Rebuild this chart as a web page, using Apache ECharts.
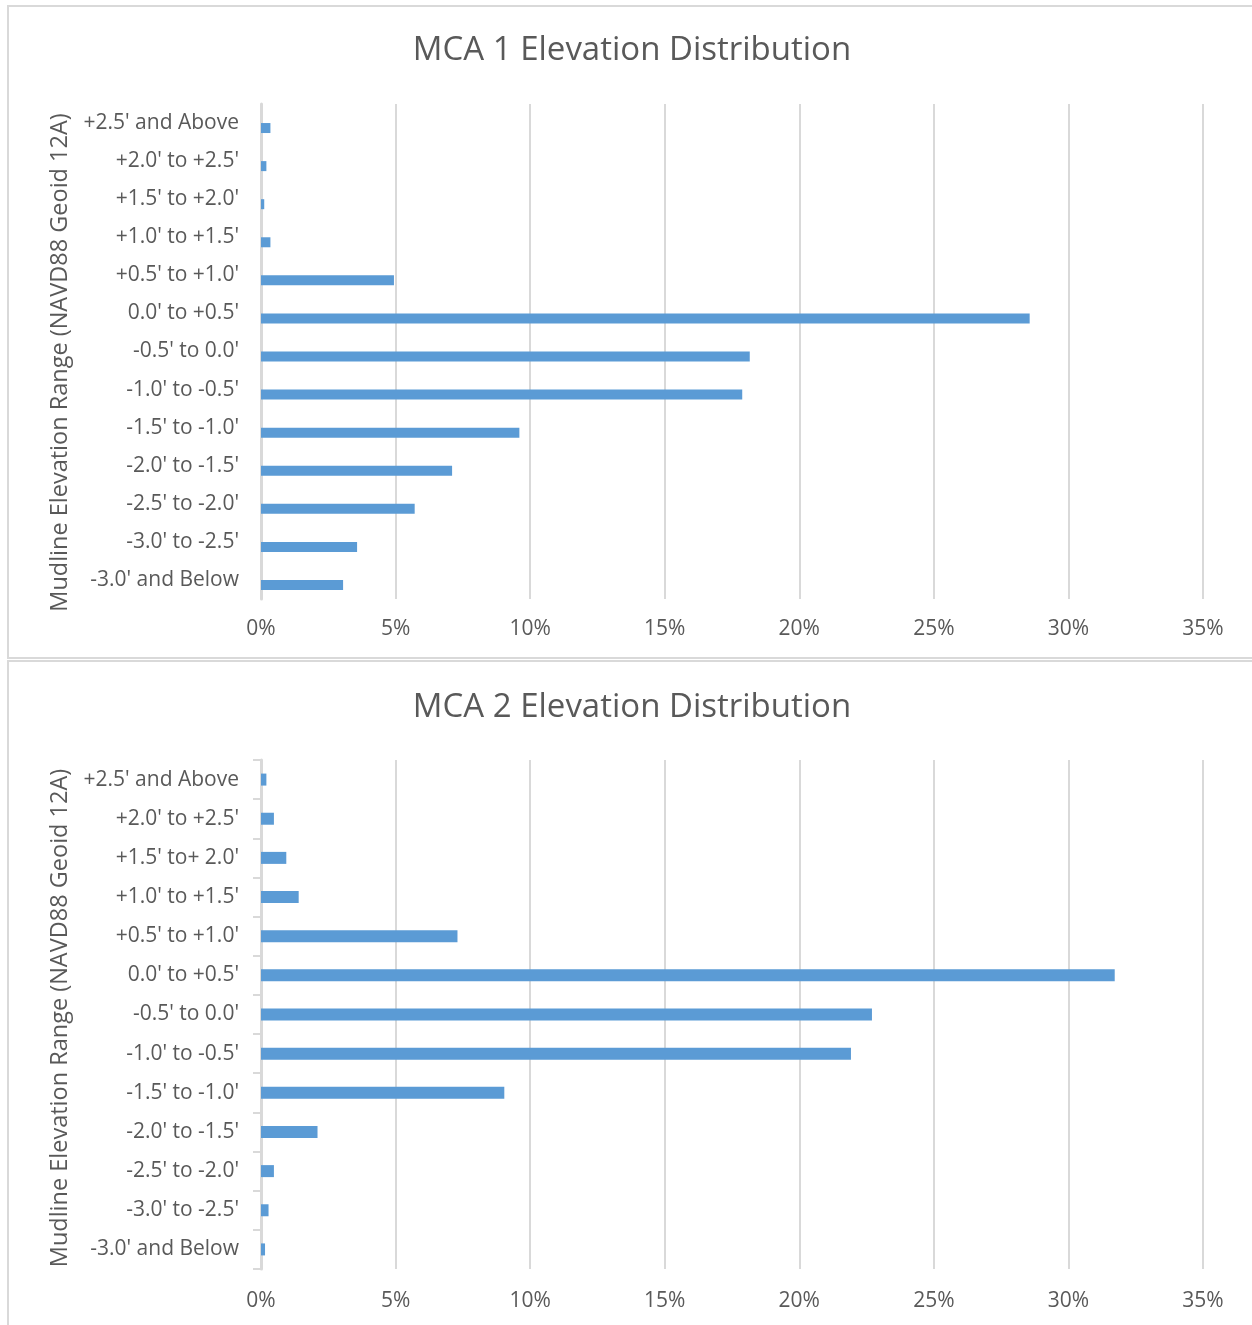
<!DOCTYPE html>
<html>
<head>
<meta charset="utf-8">
<script src="https://cdn.jsdelivr.net/npm/echarts@6/dist/echarts.min.js"></script>
<style>
  html, body { margin: 0; padding: 0; background: #ffffff; overflow: hidden; }
  body { width: 1252px; height: 1325px; position: relative; }
  .panel { position: absolute; box-sizing: border-box; border: 2px solid #d9d9d9; background: #fff; }
  #mca1 { left: 7px; top: 5px; width: 1250px; height: 654px; }
  #mca2 { left: 7px; top: 660px; width: 1250px; height: 672px; }
</style>
</head>
<body>
<div id="mca1" class="panel"></div>
<div id="mca2" class="panel"></div>
<script>
// Elevation bins, listed top to bottom
const mca1Categories = ["+2.5' and Above", "+2.0' to +2.5'", "+1.5' to +2.0'", "+1.0' to +1.5'", "+0.5' to +1.0'", "0.0' to +0.5'", "-0.5' to 0.0'", "-1.0' to -0.5'", "-1.5' to -1.0'", "-2.0' to -1.5'", "-2.5' to -2.0'", "-3.0' to -2.5'", "-3.0' and Below"];
const mca2Categories = ["+2.5' and Above", "+2.0' to +2.5'", "+1.5' to+ 2.0'", "+1.0' to +1.5'", "+0.5' to +1.0'", "0.0' to +0.5'", "-0.5' to 0.0'", "-1.0' to -0.5'", "-1.5' to -1.0'", "-2.0' to -1.5'", "-2.5' to -2.0'", "-3.0' to -2.5'", "-3.0' and Below"];

// Share of area in each bin (%)
const mca1Values = [0.35, 0.2, 0.12, 0.35, 4.94, 28.56, 18.16, 17.88, 9.6, 7.1, 5.71, 3.57, 3.05];
const mca2Values = [0.2, 0.48, 0.94, 1.4, 7.3, 31.72, 22.7, 21.92, 9.04, 2.1, 0.48, 0.28, 0.15];

const xTicks = { min: 0, max: 35, interval: 5 };

const FONT = "'Open Sans', 'Noto Sans', sans-serif";
const GREY = '#595959';
const LINE = '#d9d9d9';
const BLUE = '#5b9bd5';
const AXIS_NAME = 'Mudline Elevation Range (NAVD88 Geoid 12A)';

function buildOption(title, categories, values, opts) {
  const series = [];
  if (opts.emptySeries) {
    // empty companion series in the cluster
    series.push({ type: 'bar', data: categories.map(() => '-'), barWidth: opts.barWidth, barGap: '0%', silent: true });
  }
  series.push({
    type: 'bar',
    data: values,
    barWidth: opts.barWidth,
    barGap: '0%',
    itemStyle: { color: BLUE },
    silent: true
  });
  return {
    animation: false,
    textStyle: { fontFamily: FONT },
    title: {
      text: title,
      left: 'center',
      top: opts.titleTop,
      textStyle: { fontFamily: FONT, fontSize: 33, fontWeight: 'normal', color: GREY }
    },
    grid: { left: 252, right: 52, top: opts.gridTop, bottom: opts.gridBottom, containLabel: false },
    xAxis: {
      type: 'value',
      min: xTicks.min, max: xTicks.max, interval: xTicks.interval,
      axisLine: { show: false },
      axisTick: { show: false },
      axisLabel: { formatter: '{value}%', color: GREY, fontSize: 21, fontFamily: FONT, margin: opts.xLabelMargin },
      splitLine: { show: true, lineStyle: { color: LINE, width: 2 } }
    },
    yAxis: {
      type: 'category',
      inverse: true,
      data: categories,
      name: AXIS_NAME,
      nameLocation: 'middle',
      nameGap: 188,
      nameRotate: 90,
      nameTextStyle: { color: GREY, fontSize: 23.5, fontFamily: FONT, padding: opts.namePad },
      axisLine: { show: true, lineStyle: { color: LINE, width: 3 } },
      axisTick: { show: opts.ticks, length: 8, lineStyle: { color: LINE, width: 2 } },
      axisLabel: { color: GREY, fontSize: 21, fontFamily: FONT, margin: 22, padding: [2, 0, 0, 0] },
      splitLine: { show: false }
    },
    series: series
  };
}

const c1 = echarts.init(document.getElementById('mca1'), null, { renderer: 'canvas' });
c1.setOption(buildOption('MCA 1 Elevation Distribution', mca1Categories, mca1Values,
  { titleTop: 22, gridTop: 97, gridBottom: 58, barWidth: 10, emptySeries: true, ticks: false, namePad: [0, 22, 0, 0], xLabelMargin: 20 }));

const c2 = echarts.init(document.getElementById('mca2'), null, { renderer: 'canvas' });
c2.setOption(buildOption('MCA 2 Elevation Distribution', mca2Categories, mca2Values,
  { titleTop: 24, gridTop: 98, gridBottom: 61, barWidth: 12, emptySeries: false, ticks: true, namePad: [0, 7, 0, 0], xLabelMargin: 22 }));
</script>
</body>
</html>
